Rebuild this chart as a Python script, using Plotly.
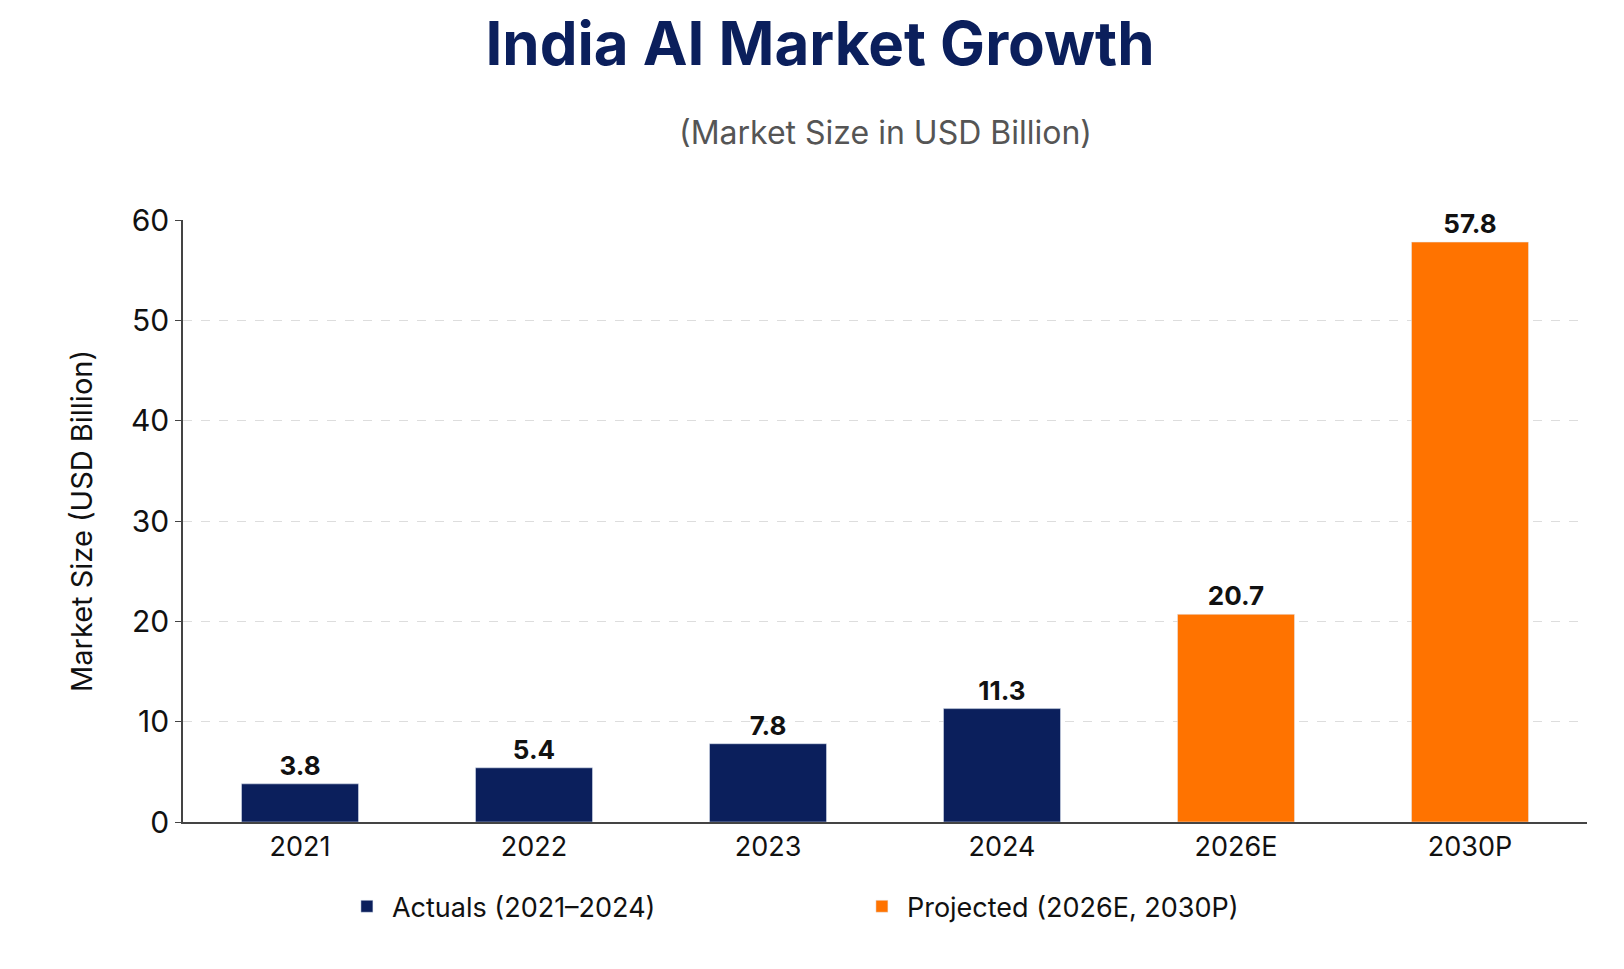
import plotly.graph_objects as go

actual_years = ["2021", "2022", "2023", "2024"]
actual_values = [3.8, 5.4, 7.8, 11.3]
proj_years = ["2026E", "2030P"]
proj_values = [20.7, 57.8]

navy = "#0B1F5C"
orange = "#FF7300"

fig = go.Figure()
fig.add_trace(go.Bar(x=actual_years, y=actual_values, name="Actuals (2021–2024)",
                     marker_color=navy, width=0.5,
                     text=[f"<b>{v:.1f}</b>" for v in actual_values], textposition="outside",
                     textfont=dict(size=26, color="#111")))
fig.add_trace(go.Bar(x=proj_years, y=proj_values, name="Projected (2026E, 2030P)",
                     marker_color=orange, width=0.5,
                     text=[f"<b>{v:.1f}</b>" for v in proj_values], textposition="outside",
                     textfont=dict(size=26, color="#111")))

fig.update_layout(
    width=1624, height=969,
    paper_bgcolor="white", plot_bgcolor="white",
    font=dict(family="Inter, Roboto, sans-serif", color="#111"),
    title=dict(text="<b>India AI Market Growth</b>",
               x=0.5, xanchor="center", y=0.985, yanchor="top",
               font=dict(size=60, color=navy)),
    annotations=[dict(text="(Market Size in USD Billion)", xref="paper", yref="paper",
                      x=0.5, y=1.11, xanchor="center", yanchor="bottom", showarrow=False,
                      font=dict(size=32, color="#555"))],
    margin=dict(l=175, r=45, t=212, b=155),
    barmode="overlay",
    showlegend=True,
    legend=dict(orientation="h", x=0.48, xanchor="center", y=-0.1, yanchor="top",
                font=dict(size=27), itemwidth=40, entrywidth=460),
    xaxis=dict(categoryorder="array", categoryarray=actual_years + proj_years,
               tickfont=dict(size=27), showline=True, linecolor="#444", linewidth=1.5),
    yaxis=dict(range=[0, 60], dtick=10, tickfont=dict(size=30),
               title=dict(text="Market Size (USD Billion)", font=dict(size=29), standoff=30),
               gridcolor="#DDDDDD", griddash="dash", zeroline=False,
               showline=True, linecolor="#444", linewidth=1.5, ticks="outside", ticklen=6),
)
fig.update_traces(cliponaxis=False)

fig.write_html("out.html")
